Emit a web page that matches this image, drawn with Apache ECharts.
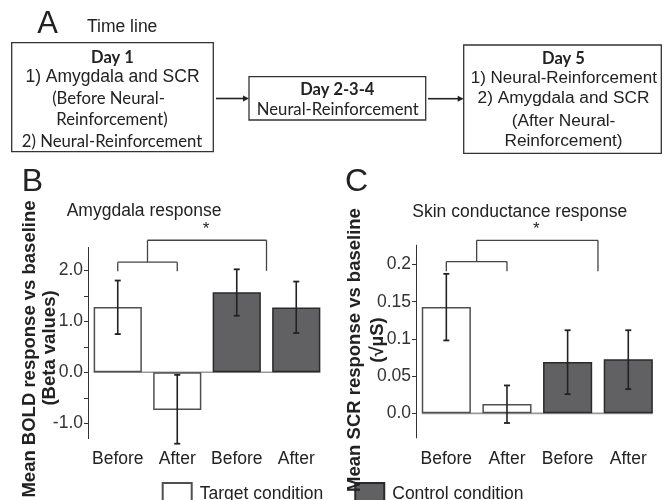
<!DOCTYPE html>
<html>
<head>
<meta charset="utf-8">
<script src="https://cdn.jsdelivr.net/npm/echarts@6/dist/echarts.min.js"></script>
<style>html,body{margin:0;padding:0;background:#fff;}#c{width:666px;height:500px;}</style>
</head>
<body>
<div id="c"></div>
<script>
// ---------- data ----------
const catLabels = ['Before', 'After', 'Before', 'After'];
const seriesNames = ['Target condition', 'Control condition'];
// Panel B: amygdala BOLD (beta values)
const boldTarget = [1.28, -0.74, '-', '-'];
const boldControl = ['-', '-', 1.57, 1.27];
const boldErrLow = [0.75, -1.40, 1.11, 0.77];
const boldErrHigh = [1.80, -0.05, 2.02, 1.78];
const boldTicks = [-1, -0.5, 0, 0.5, 1, 1.5, 2];
const boldTickLabels = [-1, 0, 1, 2];
// brackets: [fromCat, toCat, topY, leftEndY, rightEndY]
const boldBrackets = [[0, 1, 2.16, 1.98, 1.98], [0.5, 2.5, 2.59, 2.16, 1.99]];
// Panel C: skin conductance (sqrt uS)
const scrTarget = [0.143, 0.0127, '-', '-'];
const scrControl = ['-', '-', 0.069, 0.0726];
const scrErrLow = [0.098, -0.013, 0.0258, 0.0325];
const scrErrHigh = [0.1875, 0.0375, 0.1117, 0.1117];
const scrTicks = [0, 0.05, 0.1, 0.15, 0.2];
const scrBrackets = [[0, 1, 0.204, 0.191, 0.191], [0.5, 2.5, 0.2325, 0.204, 0.191]];
const sigLabel = '*';

// ---------- helpers ----------
const SANS = '"Liberation Sans", Arial, sans-serif';
const CAL = 'Lato, "Liberation Sans", sans-serif';
const INK = '#222';

function px(api, xv, yv) {
  const i0 = Math.floor(xv), f = xv - i0;
  const a = api.coord([i0, yv]);
  if (f === 0) return a;
  const b = api.coord([i0 + 1, yv]);
  return [a[0] + (b[0] - a[0]) * f, a[1]];
}
function ln(x1, y1, x2, y2, stroke, w) {
  return { type: 'line', shape: { x1, y1, x2, y2 }, style: { stroke, lineWidth: w } };
}
function errItem(params, api) {
  const x = api.value(0);
  const lo = api.coord([x, api.value(1)]);
  const hi = api.coord([x, api.value(2)]);
  const cw = 3;
  return { type: 'group', children: [
    ln(lo[0], lo[1], hi[0], hi[1], INK, 1.6),
    ln(lo[0] - cw, lo[1], lo[0] + cw, lo[1], INK, 1.8),
    ln(hi[0] - cw, hi[1], hi[0] + cw, hi[1], INK, 1.8)
  ] };
}
function bracketItem(params, api) {
  const a = api.value(0), b = api.value(1);
  const top = api.value(2), le = api.value(3), re = api.value(4);
  const pL = px(api, a, top), pR = px(api, b, top);
  const pLe = px(api, a, le), pRe = px(api, b, re);
  const c = '#444';
  const kids = [
    ln(pL[0], pL[1], pR[0], pR[1], c, 1.3),
    ln(pL[0], pL[1], pLe[0], pLe[1], c, 1.3),
    ln(pR[0], pR[1], pRe[0], pRe[1], c, 1.3)
  ];
  if (params.dataIndex === 1) {
    kids.push({ type: 'text', x: (pL[0] + pR[0]) / 2 - 1, y: pL[1] - 11,
      style: { text: sigLabel, fontSize: 17, fontFamily: SANS, fill: INK,
        textAlign: 'center', textVerticalAlign: 'middle', align: 'center', verticalAlign: 'middle' } });
  }
  return { type: 'group', children: kids };
}
function baseItem(params, api) {
  const a = api.coord([api.value(0), api.value(2)]);
  const b = api.coord([api.value(1), api.value(2)]);
  const half = api.size([1, 0])[0] * 0.81 / 2;
  return ln(a[0] - half, a[1], b[0] + half, b[1], '#9a9a9a', 1.6);
}
function txt(text, x, y, o) {
  o = o || {};
  return { type: 'text', x, y, rotation: o.rot || 0, z: 10,
    style: { text, fontSize: o.size || 17.5, fontFamily: o.font || SANS, fontWeight: o.bold ? 'bold' : 'normal',
      fill: INK, textAlign: o.align || 'center', textVerticalAlign: 'middle',
      align: o.align || 'center', verticalAlign: 'middle' } };
}
function box(x, y, w, h) {
  return { type: 'rect', shape: { x, y, width: w, height: h }, style: { fill: '#fff', stroke: '#333', lineWidth: 1.3 } };
}
function arrow(x1, x2, y) {
  return [ln(x1, y, x2 - 4, y, INK, 1.6),
    { type: 'polygon', shape: { points: [[x2, y], [x2 - 6, y - 3], [x2 - 6, y + 3]] }, style: { fill: INK } }];
}

const axisCommon = { axisLine: { show: true, lineStyle: { color: '#333', width: 1 } }, splitLine: { show: false } };

const option = {
  backgroundColor: '#fff',
  animation: false,
  legend: {
    data: seriesNames, left: 161.7, top: 482, itemWidth: 29, itemHeight: 22, itemGap: 31,
    padding: 0, icon: 'rect', selectedMode: false,
    textStyle: { fontSize: 17.5, fontFamily: SANS, color: INK, padding: [0, 0, 0, 3] }
  },
  grid: [
    { left: 88, top: 247.4, width: 238, height: 191.2 },
    { left: 416, top: 245.2, width: 242.6, height: 192.7 }
  ],
  xAxis: [0, 1].map(g => ({
    type: 'category', gridIndex: g, data: catLabels,
    axisLine: { show: false }, axisTick: { show: false },
    axisLabel: { interval: 0, margin: 12, fontSize: 17.5, fontFamily: SANS, color: INK }
  })),
  yAxis: [
    Object.assign({ type: 'value', gridIndex: 0, min: -1.3, max: 2.45,
      axisTick: { show: true, customValues: boldTicks, length: 4, lineStyle: { color: '#333' } },
      axisLabel: { customValues: boldTickLabels, formatter: v => Number(v).toFixed(1), margin: 5,
        fontSize: 17.5, fontFamily: SANS, color: '#333' } }, axisCommon),
    Object.assign({ type: 'value', gridIndex: 1, min: -0.033, max: 0.226,
      axisTick: { show: true, customValues: scrTicks, length: 4, lineStyle: { color: '#333' } },
      axisLabel: { customValues: scrTicks, formatter: v => (v === 0 ? '0.0' : String(+Number(v).toFixed(2))), margin: 5,
        fontSize: 17.5, fontFamily: SANS, color: '#333' } }, axisCommon)
  ],
  series: [
    { name: seriesNames[0], type: 'bar', xAxisIndex: 0, yAxisIndex: 0, data: boldTarget, barWidth: '81%', barGap: '-100%',
      itemStyle: { color: '#fff', borderColor: '#505050', borderWidth: 1.5 }, z: 2 },
    { name: seriesNames[1], type: 'bar', xAxisIndex: 0, yAxisIndex: 0, data: boldControl, barWidth: '81%', barGap: '-100%',
      itemStyle: { color: '#616163', borderColor: '#2a2a2a', borderWidth: 1.5 }, z: 2 },
    { name: seriesNames[0], type: 'bar', xAxisIndex: 1, yAxisIndex: 1, data: scrTarget, barWidth: '81%', barGap: '-100%',
      itemStyle: { color: '#fff', borderColor: '#505050', borderWidth: 1.5 }, z: 2 },
    { name: seriesNames[1], type: 'bar', xAxisIndex: 1, yAxisIndex: 1, data: scrControl, barWidth: '81%', barGap: '-100%',
      itemStyle: { color: '#616163', borderColor: '#2a2a2a', borderWidth: 1.5 }, z: 2 },
    { type: 'custom', xAxisIndex: 0, yAxisIndex: 0, renderItem: baseItem, data: [[0, 3, 0]], z: 1, silent: true, clip: false },
    { type: 'custom', xAxisIndex: 1, yAxisIndex: 1, renderItem: baseItem, data: [[0, 3, 0]], z: 1, silent: true, clip: false },
    { type: 'custom', xAxisIndex: 0, yAxisIndex: 0, renderItem: errItem, z: 5, silent: true, clip: false,
      data: boldErrLow.map((v, i) => [i, v, boldErrHigh[i]]) },
    { type: 'custom', xAxisIndex: 1, yAxisIndex: 1, renderItem: errItem, z: 5, silent: true, clip: false,
      data: scrErrLow.map((v, i) => [i, v, scrErrHigh[i]]) },
    { type: 'custom', xAxisIndex: 0, yAxisIndex: 0, renderItem: bracketItem, z: 5, silent: true, clip: false, data: boldBrackets },
    { type: 'custom', xAxisIndex: 1, yAxisIndex: 1, renderItem: bracketItem, z: 5, silent: true, clip: false, data: scrBrackets }
  ],
  graphic: [
    // panel A
    txt('A', 47.5, 24.5, { size: 31 }),
    txt('Time line', 87, 26.7, { align: 'left', size: 17.5 }),
    box(11.7, 42.7, 201.6, 109),
    txt('Day 1', 112.5, 57.3, { font: CAL, bold: true, size: 16.5 }),
    txt('1) Amygdala and SCR', 112.5, 77.3, { size: 17.5 }),
    txt('(Before Neural-', 108.5, 98.7, { font: CAL, size: 16.7 }),
    txt('Reinforcement)', 112, 120, { font: CAL, size: 16.7 }),
    txt('2) Neural-Reinforcement', 112, 141.7, { font: CAL, size: 16.7 }),
    ...arrow(216, 249, 98.5),
    box(249, 76.7, 176.7, 43.3),
    txt('Day 2-3-4', 337.3, 90, { font: CAL, bold: true, size: 16.5 }),
    txt('Neural-Reinforcement', 337.8, 110, { font: CAL, size: 16.7 }),
    ...arrow(428, 463.7, 98.7),
    box(463.7, 45, 197.6, 108.3),
    txt('Day 5', 563.5, 58.3, { font: CAL, bold: true, size: 16.5 }),
    txt('1) Neural-Reinforcement', 563.8, 78.3, { size: 17 }),
    txt('2) Amygdala and SCR', 563.5, 98.3, { size: 17.3 }),
    txt('(After Neural-', 563.5, 121.7, { size: 17.3 }),
    txt('Reinforcement)', 563.5, 141.7, { size: 17.3 }),
    // panel B
    txt('B', 32.5, 182, { size: 32 }),
    txt('Amygdala response', 66.7, 210.7, { align: 'left' }),
    txt('Mean BOLD response vs baseline', 30, 349, { bold: true, size: 18.5, rot: Math.PI / 2 }),
    txt('(Beta values)', 50, 348, { bold: true, size: 18.5, rot: Math.PI / 2 }),
    // panel C
    txt('C', 356.5, 182, { size: 32 }),
    txt('Skin conductance response', 412.3, 212.3, { align: 'left' }),
    txt('Mean SCR response vs baseline', 355, 350, { bold: true, size: 18.5, rot: Math.PI / 2 }),
    txt('(\u221A\u00B5S)', 378, 340, { bold: true, size: 18.5, rot: Math.PI / 2 })
  ]
};

const chart = echarts.init(document.getElementById('c'), null, { renderer: 'canvas' });
chart.setOption(option);
</script>
</body>
</html>
